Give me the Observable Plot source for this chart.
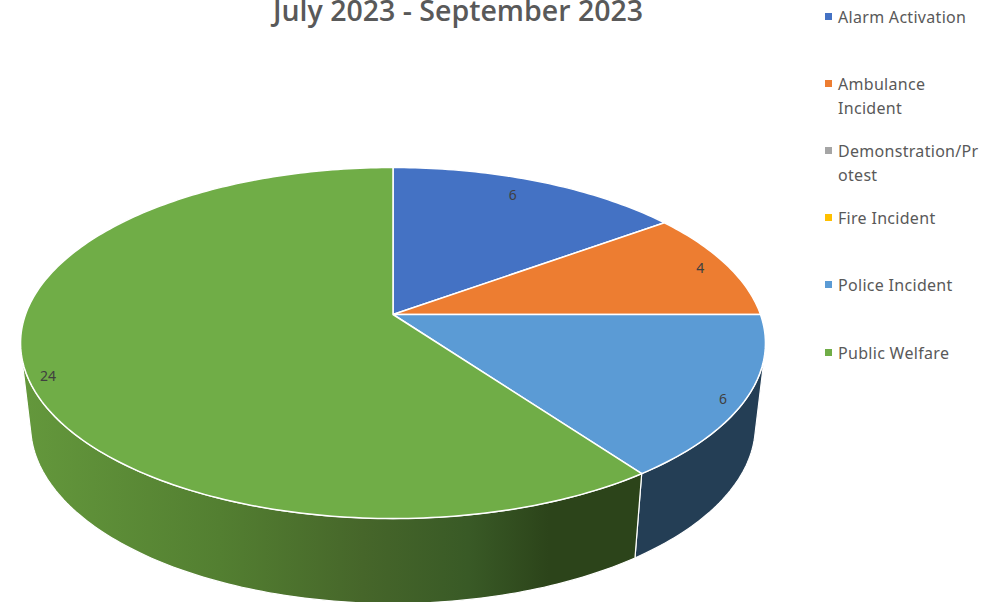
<!DOCTYPE html>
<html>
<head>
<meta charset="utf-8">
<script src="https://cdn.jsdelivr.net/npm/d3@7"></script>
<script src="https://cdn.jsdelivr.net/npm/@observablehq/plot@0.6"></script>
<style>
html,body{margin:0;padding:0;background:#fff;overflow:hidden}
#wrap{position:relative;width:1005px;height:602px;overflow:hidden}
#wrap svg{display:block}
#title{position:absolute;left:0;top:-8px;width:916px;text-align:center;font:600 28.5px/36px "Open Sans",sans-serif;color:#595959;white-space:nowrap}
.lg{position:absolute;left:838px;font:400 16px/24px "Noto Sans",sans-serif;letter-spacing:.3px;color:#595959;white-space:pre}
.sw{position:absolute;left:825px;width:7px;height:7px}
</style>
</head>
<body>
<div id="wrap"></div>
<script>
const titleText = "July 2023 - September 2023";
const categories = ["Alarm Activation","Ambulance Incident","Demonstration/Protest","Fire Incident","Police Incident","Public Welfare"];
const legendLabels = ["Alarm Activation","Ambulance\nIncident","Demonstration/Pr\notest","Fire Incident","Police Incident","Public Welfare"];
const values = [6,4,0,0,6,24];
const colors = ["#4472C4","#ED7D31","#A5A5A5","#FFC000","#5B9BD5","#70AD47"];
const sideColors = ["#264478","#9E480E","#636363","#997300","#243E55","url(#greenSide)"];
const legendTops = [5,72,139,206,273,341];
const labelPlacement = [[0.87,-2],[0.92,0],null,null,[0.95,2],[0.95,-3]];

// tilted-disc projection of a point on the pie (t = degrees clockwise from 12 o'clock)
const k = 0.1624;
const top_ = {sx:1, sy:1, oy:0};
const bottom_ = {sx:0.973, sy:1.014, oy:-0.48};
function proj(t, r, d){
  const a = t*Math.PI/180, u = r*Math.sin(a), v = r*Math.cos(a), w = 1 + k*v;
  return {x:d.sx*u/w, y:d.oy + d.sy*v/w};
}
function arc(t0,t1,d){
  const n = Math.max(2,Math.ceil(Math.abs(t1-t0)));
  return d3.range(n+1).map(i=>proj(t0+(t1-t0)*i/n,1,d));
}
const total = d3.sum(values);
let acc = 0;
const slices = values.map((v,i)=>{
  const s = {i,value:v,t0:acc/total*360,t1:(acc+v)/total*360,color:colors[i],side:sideColors[i]};
  acc += v; return s;
}).filter(s=>s.value>0);

const visFrom = 103, visTo = 257; // visible rim of the disc
const sideMarks = slices.filter(s=>s.t1>visFrom && s.t0<visTo).map(s=>{
  const a = Math.max(s.t0,visFrom), b = Math.min(s.t1,visTo);
  const pts = [...arc(a,b,top_),...arc(b,a,bottom_)];
  return Plot.line(pts,{x:"x",y:"y",fill:s.side,stroke:"white",strokeWidth:1.2,curve:"linear-closed"});
});
const topMarks = slices.map(s=>{
  const pts = [{x:0,y:0},...arc(s.t0,s.t1,top_)];
  return Plot.line(pts,{x:"x",y:"y",fill:s.color,stroke:"white",strokeWidth:1.5,curve:"linear-closed"});
});
const labelData = slices.map(s=>{
  const [r,da] = labelPlacement[s.i];
  return {...proj((s.t0+s.t1)/2+da,r,top_),text:String(s.value)};
});

function defs(){
  const ns="http://www.w3.org/2000/svg";
  const d=document.createElementNS(ns,"defs");
  const g=document.createElementNS(ns,"linearGradient");
  g.setAttribute("id","greenSide");
  g.setAttribute("gradientUnits","objectBoundingBox");
  g.setAttribute("x1","0");g.setAttribute("x2","1");g.setAttribute("y1","0");g.setAttribute("y2","0");
  [[0,"#64983c"],[0.32,"#537f31"],[0.55,"#46662a"],[0.72,"#395a26"],[0.85,"#2c441a"],[1,"#2c441a"]].forEach(([o,c])=>{
    const st=document.createElementNS(ns,"stop");
    st.setAttribute("offset",o);st.setAttribute("stop-color",c);g.appendChild(st);
  });
  d.appendChild(g);
  return d;
}

const chart = Plot.plot({
  width:1005,height:602,margin:0,
  style:{background:"#fff",fontFamily:"'Noto Sans',sans-serif"},
  x:{domain:[-1,1],range:[25,760],axis:null},
  y:{domain:[-1,1],range:[484.9,143.1],axis:null},
  marks:[
    defs,
    ...sideMarks,
    ...topMarks,
    Plot.text(labelData,{x:"x",y:"y",text:"text",fill:"#404040",fontSize:14})
  ]
});
const wrap=document.getElementById("wrap");
wrap.appendChild(chart);
const t=document.createElement("div");t.id="title";t.textContent=titleText;wrap.appendChild(t);
categories.forEach((c,i)=>{
  const sw=document.createElement("div");sw.className="sw";sw.style.top=(legendTops[i]+8)+"px";sw.style.background=colors[i];wrap.appendChild(sw);
  const l=document.createElement("div");l.className="lg";l.style.top=legendTops[i]+"px";l.textContent=legendLabels[i];wrap.appendChild(l);
});
</script>
</body>
</html>
